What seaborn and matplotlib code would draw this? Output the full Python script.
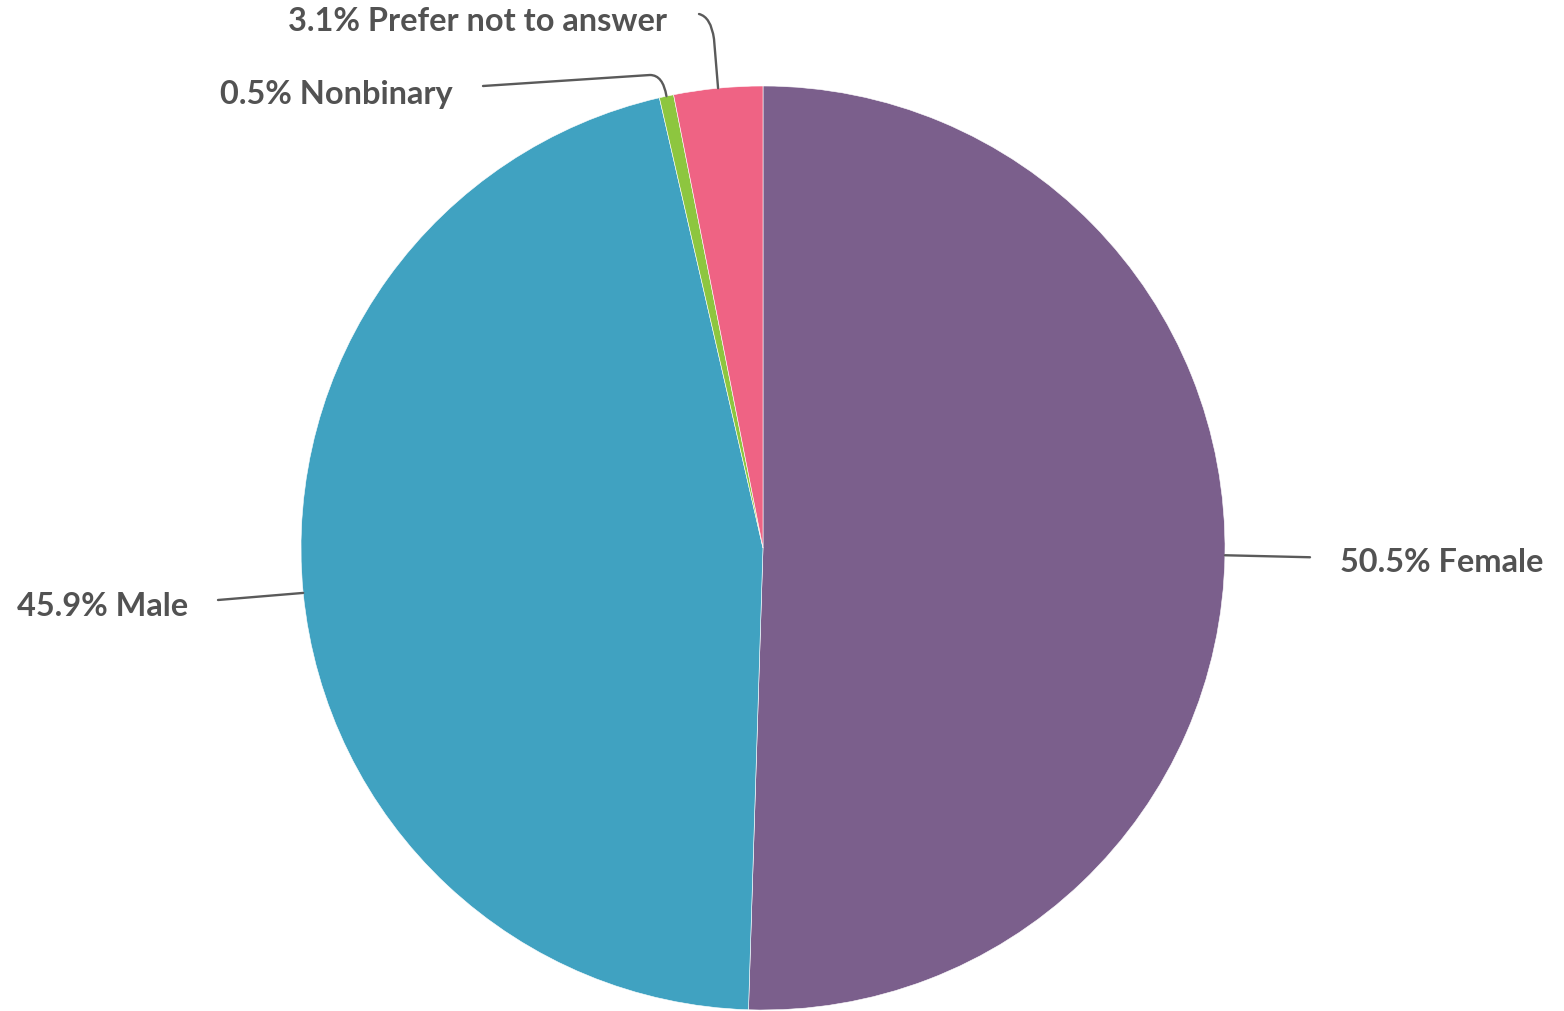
import numpy as np
import matplotlib
matplotlib.use("Agg")
import matplotlib.pyplot as plt
from matplotlib.path import Path
from matplotlib.patches import PathPatch
import seaborn as sns

# Survey gender breakdown (percent)
categories = ["Female", "Male", "Nonbinary", "Prefer not to answer"]
shares = [50.5, 45.9, 0.5, 3.1]
colors = ["#7B5F8C", "#40A2C1", "#8DC63F", "#EF6384"]
labels = [f"{v:.1f}% {c}" for c, v in zip(categories, shares)]

sns.set_theme(style="white")
plt.rcParams["font.family"] = ["Lato", "DejaVu Sans"]

W, H = 1564, 1012
fig = plt.figure(figsize=(W / 100, H / 100), dpi=100)
ax = fig.add_axes([0, 0, 1, 1])

cx, cy, r = 763, H - 549, 462
wedges, _ = ax.pie(shares, colors=colors, startangle=90, counterclock=False,
                   center=(cx, cy), radius=r, frame=True,
                   wedgeprops=dict(edgecolor="white", linewidth=0.4))
ax.set_xlim(0, W)
ax.set_ylim(0, H)
ax.set_aspect("equal")
ax.axis("off")

text_color = "#525252"
line_color = "#5a5a5a"


def anchor(w):
    ang = np.deg2rad((w.theta1 + w.theta2) / 2)
    return cx + r * np.cos(ang), cy + r * np.sin(ang)


def draw_path(verts, codes):
    ax.add_patch(PathPatch(Path(verts, codes), fill=False, edgecolor=line_color,
                           linewidth=1.7, capstyle="round"))


fs = 23.4
fw = "bold"
# Female (right)
ax0, ay0 = anchor(wedges[0])
draw_path([(ax0, ay0), (1310, ay0 - 2)], [Path.MOVETO, Path.LINETO])
ax.text(1340, H - 562, labels[0], ha="left", va="center", fontsize=fs,
        color=text_color, fontweight=fw)

# Male (left)
ax1, ay1 = anchor(wedges[1])
draw_path([(ax1, ay1), (218, H - 601)], [Path.MOVETO, Path.LINETO])
ax.text(188, H - 607, labels[1], ha="right", va="center", fontsize=fs,
        color=text_color, fontweight=fw)

# Nonbinary (top left)
ax2, ay2 = anchor(wedges[2])
draw_path([(483, H - 87), (650, H - 76), (663, H - 76), (ax2, ay2)],
          [Path.MOVETO, Path.LINETO, Path.CURVE3, Path.CURVE3])
ax.text(453, H - 94, labels[2], ha="right", va="center", fontsize=fs,
        color=text_color, fontweight=fw)

# Prefer not to answer (top)
ax3, ay3 = anchor(wedges[3])
draw_path([(699, H - 15), (711, H - 18), (714, H - 40), (ax3, ay3)],
          [Path.MOVETO, Path.CURVE3, Path.CURVE3, Path.LINETO])
ax.text(667, H - 21, labels[3], ha="right", va="center", fontsize=fs,
        color=text_color, fontweight=fw)

fig.savefig("out.png", dpi=100, facecolor="white")
